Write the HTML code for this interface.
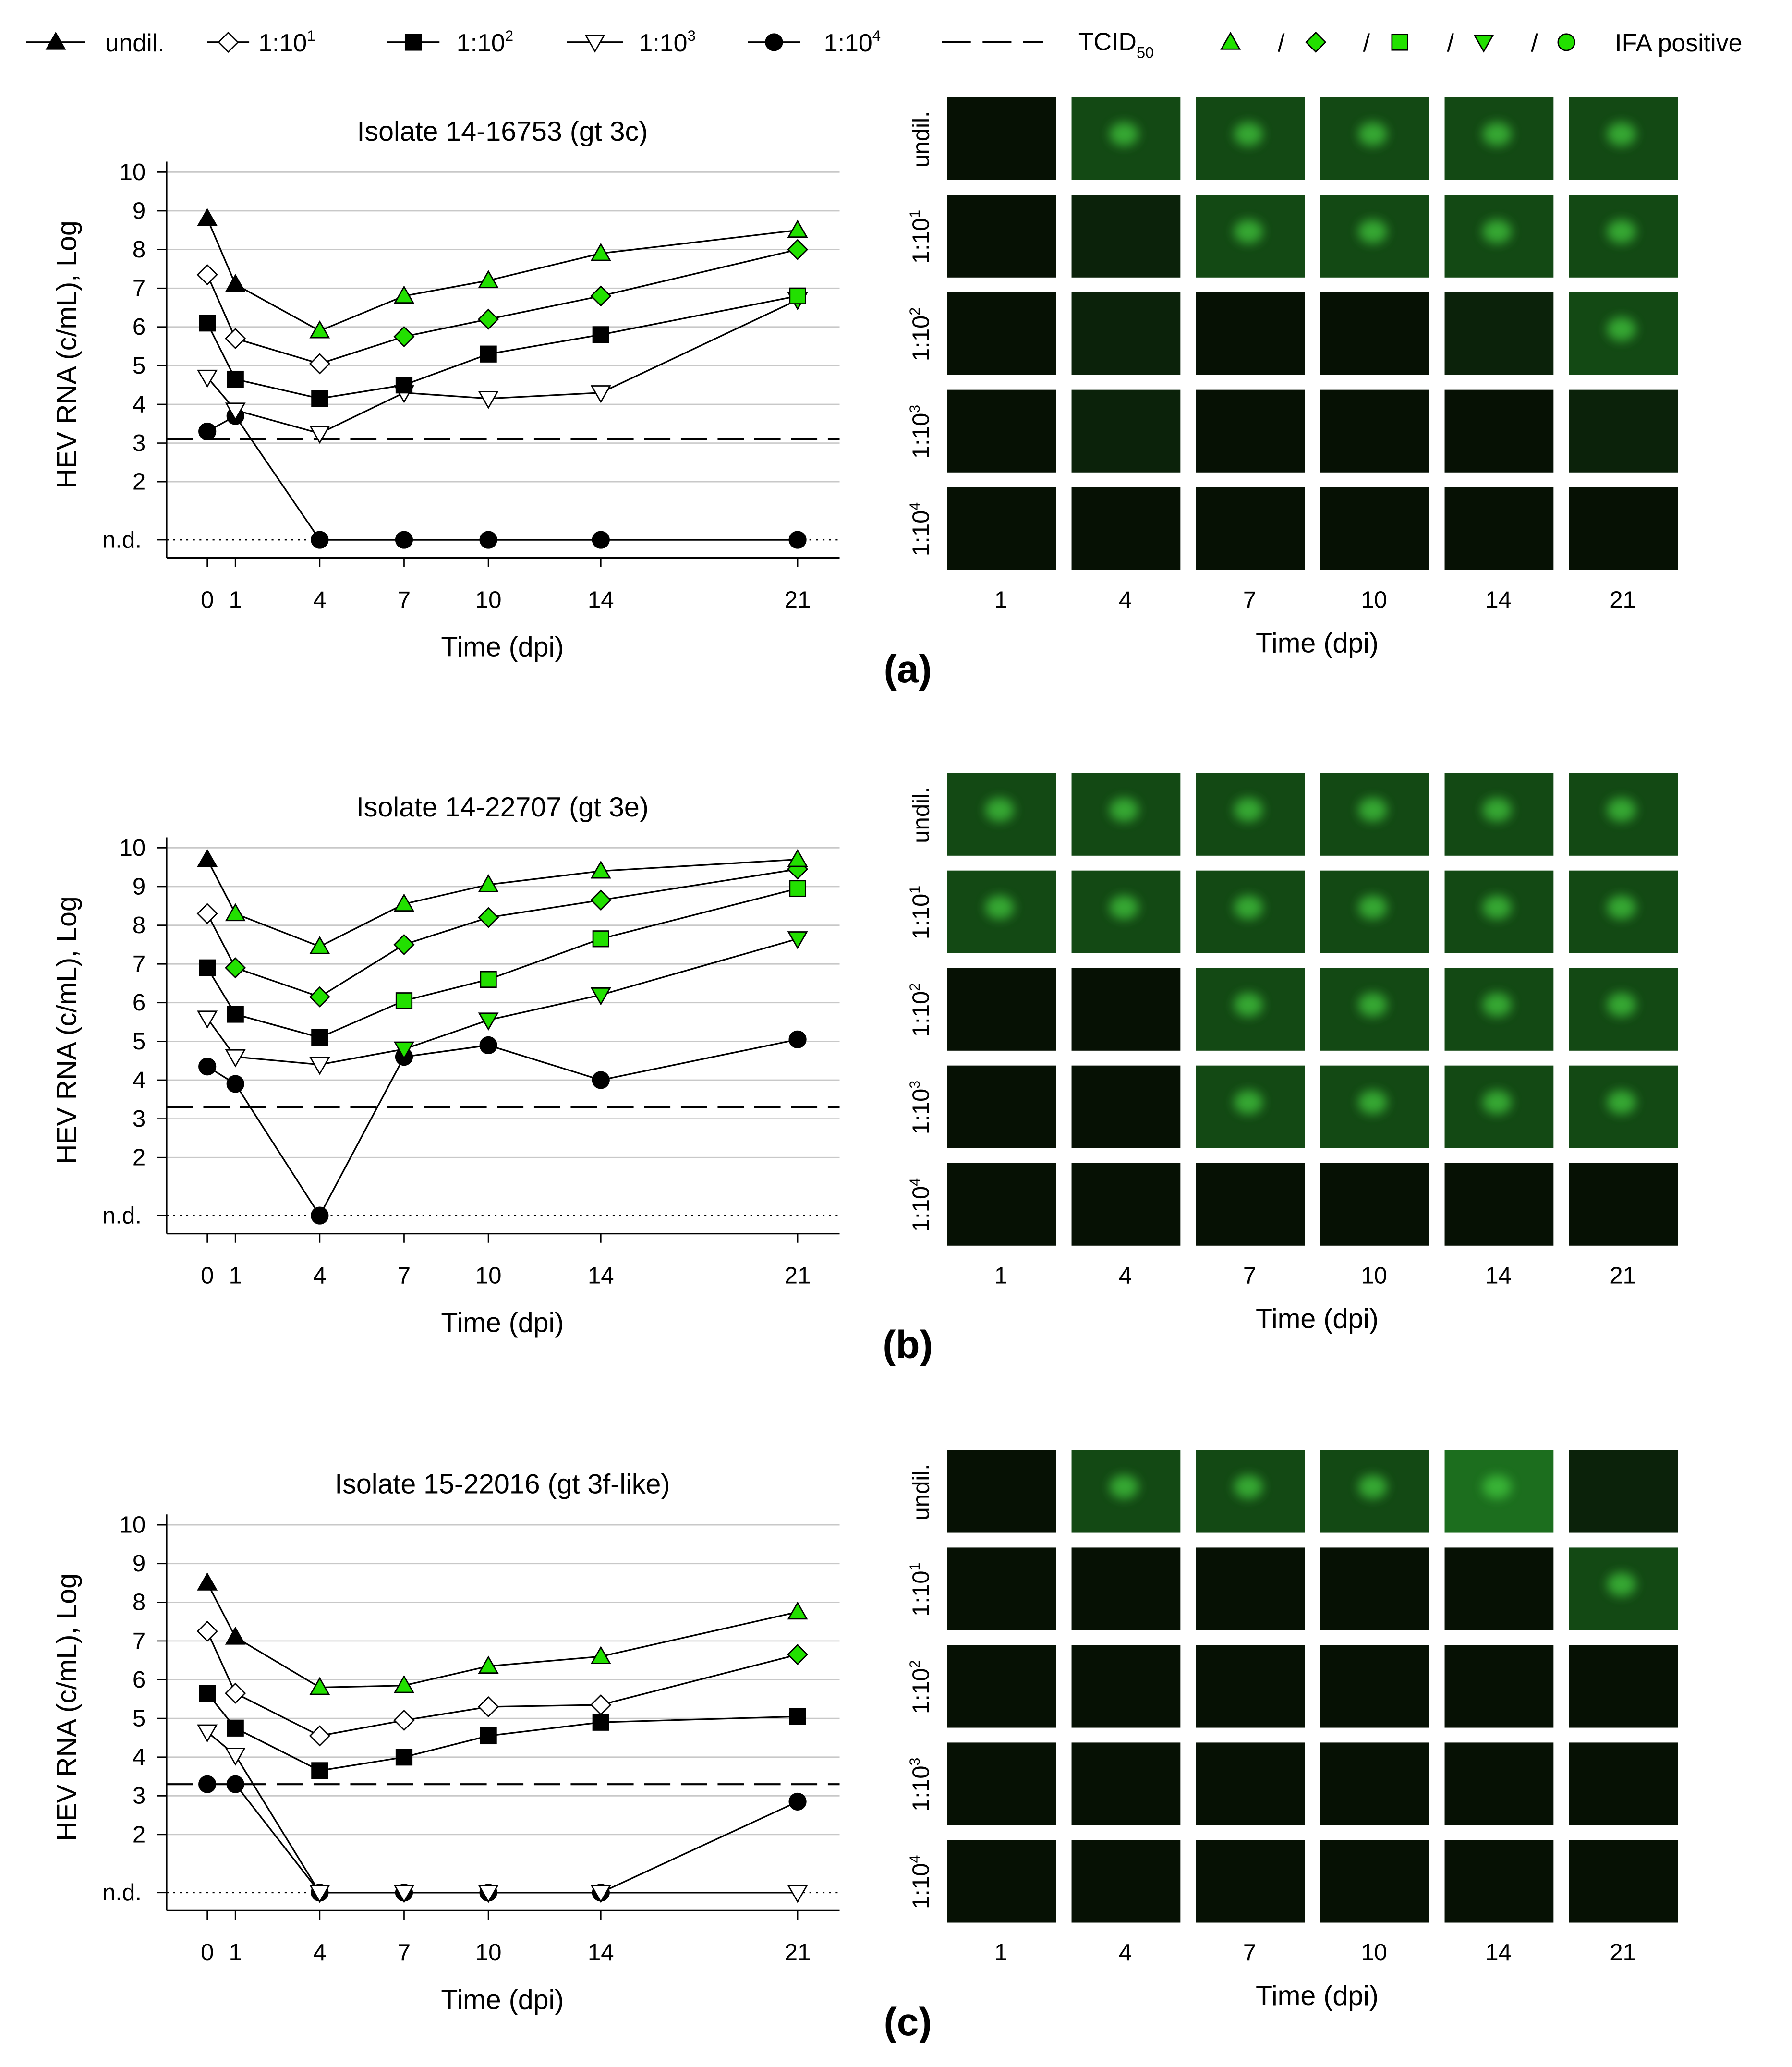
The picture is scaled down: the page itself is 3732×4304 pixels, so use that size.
<!DOCTYPE html>
<html><head><meta charset="utf-8">
<style>
html,body{margin:0;padding:0;background:#fff;}
svg{display:block;}
text{font-family:"Liberation Sans",Arial,sans-serif;fill:#000;}
</style></head>
<body>
<svg id="fig" width="3732" height="4304" viewBox="0 0 1366 1575" xmlns="http://www.w3.org/2000/svg">
<defs><filter id="blur" x="-50%" y="-50%" width="200%" height="200%"><feGaussianBlur stdDeviation="4"/></filter></defs>
<rect width="1366" height="1575" fill="#fff"/>
<g id="legend"></g>
</svg>
<script>
// ---------- data ----------
const days = [0,1,4,7,10,14,21];
const yTicks = [2,3,4,5,6,7,8,9,10];
const ND = 0.5; // n.d. level
const seriesNames = ['undil.','1:10^1','1:10^2','1:10^3','1:10^4'];
const titles = ['Isolate 14-16753 (gt 3c)','Isolate 14-22707 (gt 3e)','Isolate 15-22016 (gt 3f-like)'];
const tcid50 = [3.1, 3.3, 3.3];
// panel a
const aUndil = [8.8,7.1,5.9,6.8,7.2,7.9,8.5];
const a10 = [7.35,5.7,5.05,5.75,6.2,6.8,8.0];
const a100 = [6.1,4.65,4.15,4.5,5.3,5.8,6.8];
const a1000 = [4.7,3.85,3.25,4.3,4.15,4.3,6.7];
const a10000 = [3.3,3.7,ND,ND,ND,ND,ND];
const aGreenFrom = [2,3,6,6,99];
// panel b
const bUndil = [9.7,8.3,7.45,8.55,9.05,9.4,9.7];
const b10 = [8.3,6.9,6.15,7.5,8.2,8.65,9.45];
const b100 = [6.9,5.7,5.1,6.05,6.6,7.65,8.95];
const b1000 = [5.6,4.6,4.4,4.8,5.55,6.2,7.65];
const b10000 = [4.35,3.9,ND,4.6,4.9,4.0,5.05];
const bGreenFrom = [1,1,3,3,99];
// panel c
const cUndil = [8.5,7.1,5.8,5.85,6.35,6.6,7.75];
const c10 = [7.25,5.65,4.55,4.95,5.3,5.35,6.65];
const c100 = [5.65,4.75,3.65,4.0,4.55,4.9,5.05];
const c1000 = [4.65,4.05,ND,ND,ND,ND,ND];
const c10000 = [3.3,3.3,ND,ND,ND,ND,2.85];
const cGreenFrom = [2,6,99,99,99];
// IFA image brightness levels (rows: undil..1:10^4, cols: 1,4,7,10,14,21)
const imgDays = [1,4,7,10,14,21];
const aImg = [[0,2,2,2,2,2],[0,1,2,2,2,2],[0,1,0,0,1,2],[0,1,0,0,0,1],[0,0,0,0,0,0]];
const bImg = [[2,2,2,2,2,2],[2,2,2,2,2,2],[0,0,2,2,2,2],[0,0,2,2,2,2],[0,0,0,0,0,0]];
const cImg = [[0,2,2,2,3,1],[0,0,0,0,0,2],[0,0,0,0,0,0],[0,0,0,0,0,0],[0,0,0,0,0,0]];

const panels = [
 {series:[aUndil,a10,a100,a1000,a10000], green:aGreenFrom, img:aImg, letter:'(a)'},
 {series:[bUndil,b10,b100,b1000,b10000], green:bGreenFrom, img:bImg, letter:'(b)'},
 {series:[cUndil,c10,c100,c1000,c10000], green:cGreenFrom, img:cImg, letter:'(c)'}
];
const offsets = [0,515,1031];
const shapes = ['tri','dia','sq','dtri','circ'];
const filled = [true,false,true,false,true];
const GREEN = '#22e000';
const NS = 'http://www.w3.org/2000/svg';
const svg = document.getElementById('fig');

function el(tag, attrs, parent){
  const e = document.createElementNS(NS, tag);
  for (const k in attrs) e.setAttribute(k, attrs[k]);
  (parent||svg).appendChild(e);
  return e;
}
function marker(shape, cx, cy, fill, parent){
  const s = 7;
  let e;
  if (shape==='tri') e = el('polygon',{points:`${cx},${cy-s} ${cx+s},${cy+s*0.75} ${cx-s},${cy+s*0.75}`},parent);
  else if (shape==='dtri') e = el('polygon',{points:`${cx},${cy+s} ${cx+s},${cy-s*0.75} ${cx-s},${cy-s*0.75}`},parent);
  else if (shape==='dia') e = el('polygon',{points:`${cx},${cy-s*1.05} ${cx+s*1.05},${cy} ${cx},${cy+s*1.05} ${cx-s*1.05},${cy}`},parent);
  else if (shape==='sq') e = el('rect',{x:cx-s*0.85,y:cy-s*0.85,width:s*1.7,height:s*1.7},parent);
  else e = el('circle',{cx:cx,cy:cy,r:s*0.9},parent);
  e.setAttribute('fill', fill);
  e.setAttribute('stroke', '#000');
  e.setAttribute('stroke-width', '1');
  return e;
}
function supText(parent, x, y, base, sup, size){
  const t = el('text',{x:x,y:y,'font-size':size},parent);
  t.appendChild(document.createTextNode(base));
  const ts = el('tspan',{dy:-8,'font-size':size*0.6},t);
  ts.textContent = sup;
  return t;
}

// ---------- legend ----------
const lg = document.getElementById('legend');
const legX = [20,158,295,432,570];
const legX2 = [65,190,335,475,610];
const legTxt = [['undil.',''],['1:10','1'],['1:10','2'],['1:10','3'],['1:10','4']];
const legTextX = [80,197,348,487,628];
for (let i=0;i<5;i++){
  const g = el('g',{},lg);
  
  
  el('line',{x1:legX[i],y1:32,x2:legX2[i],y2:32,stroke:'#000','stroke-width':1.3},g);
  marker(shapes[i], (legX[i]+legX2[i])/2, 32, filled[i]?'#000':'#fff', g);
  if (legTxt[i][1]) supText(g, legTextX[i], 39, legTxt[i][0], legTxt[i][1], 19);
  else el('text',{x:legTextX[i],y:39,'font-size':19},g).textContent = legTxt[i][0];
}
{
  const g = el('g',{},lg);
  
  
  el('line',{x1:718,y1:32,x2:795,y2:32,stroke:'#000','stroke-width':1.5,'stroke-dasharray':'22 9'},g);
  const t = el('text',{x:822,y:38,'font-size':19},g);
  t.appendChild(document.createTextNode('TCID'));
  const s = el('tspan',{dy:6,'font-size':12},t); s.textContent='50';
  const g2 = el('g',{},lg);
  
  
  const gx = [938,1003,1067,1131,1194];
  for (let i=0;i<5;i++){
    marker(shapes[i], gx[i], 32, GREEN, g2);
    if (i<4) el('text',{x:gx[i]+36,y:39,'font-size':19},g2).textContent='/';
  }
  el('text',{x:1231,y:39,'font-size':19},g2).textContent='IFA positive';
}

// ---------- panels ----------
const X0 = 158, XS = (608-158)/21;
const xs = d => X0 + d*XS;
const levelColor = ['#061104','#0b220a','#134914','#1c6e1e'];

panels.forEach((p, pi) => {
  const off = offsets[pi];
  const ys = v => off + 131 + (10 - v)*29.5;
  const g = el('g',{});
  
  
  yTicks.forEach(v=>{
    el('line',{x1:127,x2:640,y1:ys(v),y2:ys(v),stroke:'#c8c8c8','stroke-width':1},g);
  });
  el('line',{x1:127,x2:640,y1:ys(ND),y2:ys(ND),stroke:'#000','stroke-width':1,'stroke-dasharray':'1.5 3.5'},g);
  el('line',{x1:127,x2:127,y1:ys(10)-8,y2:off+425,stroke:'#000','stroke-width':1.2},g);
  el('line',{x1:127,x2:640,y1:off+425,y2:off+425,stroke:'#000','stroke-width':1.2},g);
  yTicks.forEach(v=>{
    el('line',{x1:120,x2:127,y1:ys(v),y2:ys(v),stroke:'#000'},g);
    el('text',{x:111,y:ys(v)+6,'font-size':18,'text-anchor':'end'},g).textContent=v;
  });
  el('line',{x1:120,x2:127,y1:ys(ND),y2:ys(ND),stroke:'#000'},g);
  el('text',{x:108,y:ys(ND)+6,'font-size':18,'text-anchor':'end'},g).textContent='n.d.';
  days.forEach(d=>{
    el('line',{x1:xs(d),x2:xs(d),y1:off+425,y2:off+432,stroke:'#000'},g);
    el('text',{x:xs(d),y:off+463,'font-size':18,'text-anchor':'middle'},g).textContent=d;
  });
  el('text',{x:383,y:off+107,'font-size':21,'text-anchor':'middle'},g).textContent=titles[pi];
  el('text',{x:383,y:off+500,'font-size':21,'text-anchor':'middle'},g).textContent='Time (dpi)';
  el('text',{x:0,y:0,'font-size':21,'text-anchor':'middle',transform:`translate(58,${off+270}) rotate(-90)`},g).textContent='HEV RNA (c/mL), Log';
  const tl = el('line',{x1:127,x2:640,y1:ys(tcid50[pi]),y2:ys(tcid50[pi]),stroke:'#000','stroke-width':1.5,'stroke-dasharray':'20 8'},g);
  
  
  for (let si=4; si>=0; si--){
    const vals = p.series[si];
    const sg = el('g',{},g);
    
    
    el('polyline',{points:vals.map((v,i)=>xs(days[i])+','+ys(v)).join(' '),fill:'none',stroke:'#000','stroke-width':1.2},sg);
    vals.forEach((v,i)=>{
      const fill = i>=p.green[si] ? GREEN : (filled[si]?'#000':'#fff');
      const m = marker(shapes[si], xs(days[i]), ys(v), fill, sg);
      
      
    });
  }
  const ig = el('g',{});
  
  
  const rowLbl = [['undil.',''],['1:10','1'],['1:10','2'],['1:10','3'],['1:10','4']];
  for (let r=0;r<5;r++){
    const y0 = off + 74 + r*74.3;
    for (let c=0;c<6;c++){
      const x0 = 722 + c*94.8;
      const lv = p.img[r][c];
      const cell = el('rect',{x:x0,y:y0,width:83,height:63,fill:levelColor[lv]},ig);
      
      
      if (lv>=2) el('ellipse',{cx:x0+40,cy:y0+28,rx:11,ry:9,fill:'#44d040',opacity:0.7,filter:'url(#blur)'},ig);
    }
    const t = el('text',{x:0,y:0,'font-size':18,'text-anchor':'middle',transform:`translate(708,${y0+32}) rotate(-90)`},ig);
    t.appendChild(document.createTextNode(rowLbl[r][0]));
    if (rowLbl[r][1]){ const s=el('tspan',{dy:-7,'font-size':11},t); s.textContent=rowLbl[r][1]; }
  }
  imgDays.forEach((d,c)=>{
    el('text',{x:722+c*94.8+41,y:off+463,'font-size':18,'text-anchor':'middle'},ig).textContent=d;
  });
  el('text',{x:1004,y:off+497,'font-size':21,'text-anchor':'middle'},ig).textContent='Time (dpi)';
  const lt = el('text',{x:692,y:off+520,'font-size':30,'font-weight':'bold','text-anchor':'middle'},ig);
  lt.textContent = p.letter;
  
  
});
</script>
</body></html>
